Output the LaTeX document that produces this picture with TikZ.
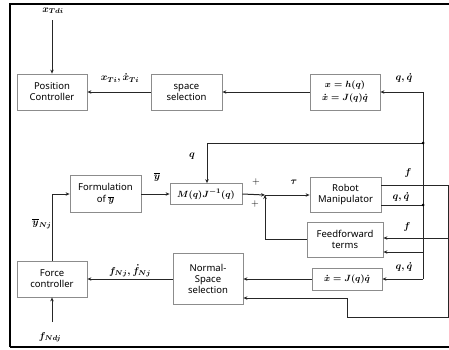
\documentclass[tikz,border=0pt]{standalone}
\usepackage{amsmath}
\usepackage{fontspec}
\setsansfont{Noto Sans}
\usetikzlibrary{arrows.meta}
\begin{document}
\begin{tikzpicture}[x=1pt,y=-1pt,
  box/.style={draw=black!45, line width=0.8pt, fill=white, inner sep=1pt, align=center,
    font=\sffamily\bfseries\fontsize{9.5}{11}\selectfont\boldmath},
  lab/.style={font=\fontsize{10}{12}\selectfont\boldmath, inner sep=0pt},
  plus/.style={font=\fontsize{10}{12}\selectfont, inner sep=0pt},
  wire/.style={line width=1pt, draw=black!85},
  arr/.style={wire, -{Stealth[length=4pt,width=3.5pt]}},
  jdot/.style={circle, fill=black, inner sep=0pt, minimum size=3pt}]
\useasboundingbox (0,0) rectangle (449,349);
% frame
\draw[line width=2.5pt] (10,347) -- (10,4) -- (449,4);
\draw[line width=2pt] (10,347) -- (449,347);
% boxes
\node[box, minimum width=70pt, minimum height=36pt] (pc) at (52,92) {Position\\Controller};
\node[box, minimum width=71pt, minimum height=36pt] (ss) at (186.5,92) {space\\selection};
\node[box, minimum width=70pt, minimum height=36pt] (hx) at (345,92) {$x = h(q)$\\[2pt]$\dot{x} = J(q)\dot{q}$};
\node[box, minimum width=71pt, minimum height=37pt] (fy) at (105.5,194) {Formulation\\[1pt]of $\overline{y}$};
\node[box, minimum width=72pt, minimum height=21pt] (mj) at (206,194) {$M(q)J^{-1}(q)$};
\node[box, minimum width=71pt, minimum height=35pt] (rm) at (345.5,194.5) {Robot\\Manipulator};
\node[box, minimum width=76pt, minimum height=35pt] (ff) at (345,239.5) {Feedforward\\terms};
\node[box, minimum width=70pt, minimum height=22pt] (jx) at (347,279) {$\dot{x} = J(q)\dot{q}$};
\node[box, minimum width=70pt, minimum height=51pt] (ns) at (208,279) {Normal-\\Space\\selection};
\node[box, minimum width=70pt, minimum height=36pt] (fc) at (52,279) {Force\\controller};
% coordinates
\coordinate (qtop) at (423,92);
\coordinate (qj1) at (423,143);
\coordinate (qj2) at (423,205);
\coordinate (qj3) at (423,252);
\coordinate (qbot) at (423,279);
\coordinate (fr1) at (448,185);
\coordinate (fr2) at (448,238);
\coordinate (fr3) at (448,317);
\coordinate (fb1) at (347,317);
\coordinate (fb2) at (347,298);
\coordinate (sum) at (265,195);
\coordinate (qm) at (207,143);
\coordinate (ynj) at (52,194);
\coordinate (xtdi) at (52,20);
\coordinate (fndj) at (52,322);
% wires
\draw[arr] (xtdi) -- (pc.north);
\draw[arr] (ss.west) -- (pc.east);
\draw[arr] (hx.west) -- (ss.east);
\draw[arr] (qtop) -- (hx.east);
\draw[wire] (qtop) -- (qbot);
\draw[arr] (qj1) -- (qm) -- (qm |- mj.north);
\draw[arr] (fy.east) -- (fy.east -| mj.west);
\draw[arr] (mj.east) -- (sum);
\draw[arr] (sum) -- (sum -| rm.west);
\draw[arr] (ff.west) -| (sum);
\draw[wire] (rm.east |- fr1) -- (fr1) -- (fr3) -- (fb1) -- (fb2);
\draw[arr] (fb2) -- (fb2 -| ns.east);
\draw[arr] (fr2) -- (fr2 -| ff.east);
\draw[wire] (rm.east |- qj2) -- (qj2);
\draw[arr] (qj3) -- (qj3 -| ff.east);
\draw[arr] (qbot) -- (jx.east);
\draw[arr] (jx.west) -- (jx.west -| ns.east);
\draw[arr] (ns.west) -- (fc.east);
\draw[arr] (fc.north) -- (ynj) -- (ynj -| fy.west);
\draw[arr] (fndj) -- (fc.south);
\node[jdot] (d1) at (qj1) {};
\node[jdot] (d2) at (qj2) {};
% labels
\node[lab] (l1) at (53,11) {$x_{Tdi}$};
\node[lab] (l2) at (120,78) {$x_{Ti}, \dot{x}_{Ti}$};
\node[lab] (l3) at (404,78) {$q, \dot{q}$};
\node[lab] (l4) at (192,156) {$q$};
\node[lab] (l5) at (157,177) {$\overline{y}$};
\node[plus] (l6) at (256,182) {$+$};
\node[plus] (l7) at (255,204) {$+$};
\node[lab] (l8) at (294,182) {$\tau$};
\node[lab] (l9) at (408,173) {$f$};
\node[lab] (l10) at (401,197) {$q, \dot{q}$};
\node[lab] (l11) at (407,227) {$f$};
\node[lab] (l12) at (404,267) {$q, \dot{q}$};
\node[lab] (l13) at (130,271) {$f_{Nj}, \dot{f}_{Nj}$};
\node[lab] (l14) at (42,224) {$\overline{y}_{Nj}$};
\node[lab] (l15) at (50,337) {$f_{Ndj}$};
\end{tikzpicture}
\end{document}
